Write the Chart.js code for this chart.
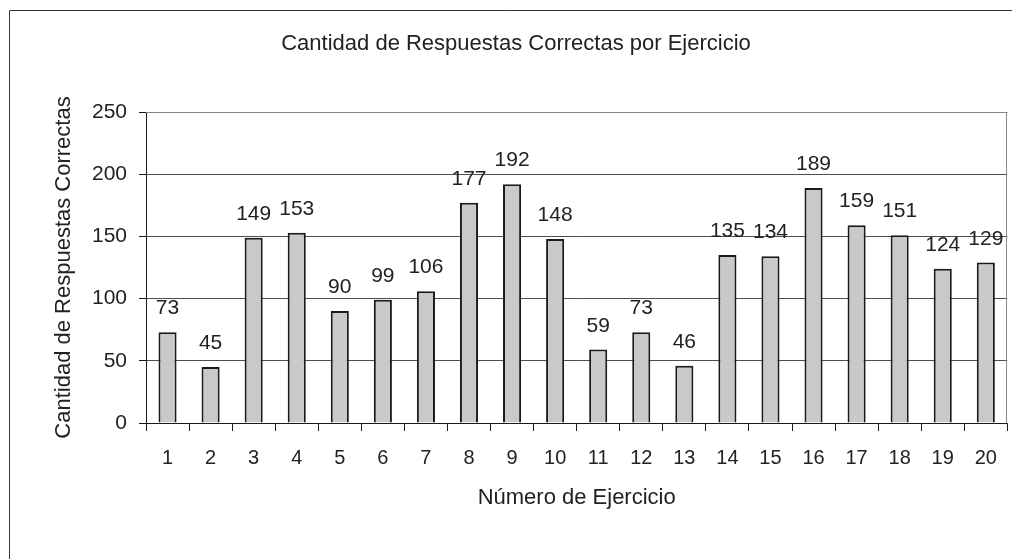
<!DOCTYPE html>
<html>
<head>
<meta charset="utf-8">
<script src="https://cdn.jsdelivr.net/npm/chart.js@4"></script>
<style>
  html, body { margin: 0; padding: 0; background: #fff; }
  #wrap { width: 1012px; height: 559px; }
</style>
</head>
<body>
<div id="wrap"><canvas id="chart" width="1012" height="559"></canvas></div>
<script>
// chart data
const ejercicios = ["1", "2", "3", "4", "5", "6", "7", "8", "9", "10",
  "11", "12", "13", "14", "15", "16", "17", "18", "19", "20"];
const respuestas = [73, 45, 149, 153, 90, 99, 106, 177, 192, 148,
  59, 73, 46, 135, 134, 189, 159, 151, 124, 129];
const yTicks = [0, 50, 100, 150, 200, 250];

Chart.defaults.font.family = "'Liberation Sans', Arial, sans-serif";
Chart.defaults.color = "#222";

// outer frame (only the left and top edges are visible in the picture)
const framePlugin = {
  id: "frame",
  beforeDraw(chart) {
    const ctx = chart.ctx;
    ctx.save();
    ctx.fillStyle = "#fff";
    ctx.fillRect(0, 0, chart.width, chart.height);
    ctx.strokeStyle = "#333";
    ctx.lineWidth = 1;
    ctx.beginPath();
    ctx.moveTo(9.5, chart.height);
    ctx.lineTo(9.5, 10.5);
    ctx.lineTo(chart.width, 10.5);
    ctx.stroke();
    ctx.restore();
  },
  beforeDatasetsDraw(chart) {
    // plot box top + right edges
    const a = chart.chartArea;
    const ctx = chart.ctx;
    ctx.save();
    ctx.strokeStyle = "#888";
    ctx.lineWidth = 1;
    ctx.beginPath();
    ctx.moveTo(a.left, Math.round(a.top) + 0.5);
    ctx.lineTo(Math.round(a.right) - 0.5, Math.round(a.top) + 0.5);
    ctx.lineTo(Math.round(a.right) - 0.5, a.bottom);
    ctx.stroke();
    ctx.restore();
  }
};

// value labels above each bar
const valueLabels = {
  id: "valueLabels",
  afterDatasetsDraw(chart) {
    const ctx = chart.ctx;
    const meta = chart.getDatasetMeta(0);
    ctx.save();
    ctx.font = "21px 'Liberation Sans', Arial, sans-serif";
    ctx.fillStyle = "#222";
    ctx.textAlign = "center";
    ctx.textBaseline = "alphabetic";
    meta.data.forEach((bar, i) => {
      ctx.fillText(String(respuestas[i]), bar.x, bar.y - 18);
    });
    ctx.restore();
  }
};

new Chart(document.getElementById("chart"), {
  type: "bar",
  plugins: [framePlugin, valueLabels],
  data: {
    labels: ejercicios,
    datasets: [{
      data: respuestas,
      backgroundColor: "#c8c9ca",
      borderColor: "#1a1a1a",
      borderWidth: 2,
      categoryPercentage: 1,
      barPercentage: 0.42
    }]
  },
  options: {
    responsive: false,
    animation: false,
    layout: { padding: { left: 23, right: 3, top: 0, bottom: 47.5 } },
    plugins: {
      legend: { display: false },
      tooltip: { enabled: false },
      title: {
        display: true,
        text: "Cantidad de Respuestas Correctas por Ejercicio",
        font: { size: 22, weight: "normal" },
        color: "#222",
        padding: { top: 31, bottom: 54.6 }
      }
    },
    scales: {
      x: {
        afterFit(scale) { scale.height = 88.5; },
        grid: {
          offset: true,
          drawOnChartArea: false,
          drawTicks: true,
          tickLength: 8,
          tickColor: "#1a1a1a"
        },
        border: { color: "#1a1a1a", width: 1 },
        ticks: { font: { size: 20 }, color: "#222", padding: 15, maxRotation: 0 },
        title: {
          display: true,
          text: "Número de Ejercicio",
          font: { size: 22 },
          color: "#222",
          padding: 0
        }
      },
      y: {
        min: 0,
        max: 250,
        afterFit(scale) { scale.width = 123; },
        afterBuildTicks(scale) { scale.ticks = yTicks.map(v => ({ value: v })); },
        grid: {
          color: "#4d4d4d",
          lineWidth: 1,
          drawTicks: true,
          tickLength: 7,
          tickColor: "#1a1a1a"
        },
        border: { color: "#1a1a1a", width: 1 },
        ticks: { font: { size: 21 }, color: "#222", padding: 12 },
        title: {
          display: true,
          text: "Cantidad de Respuestas Correctas",
          font: { size: 22 },
          color: "#222",
          padding: { top: 28, bottom: 0 }
        }
      }
    }
  }
});
</script>
</body>
</html>
